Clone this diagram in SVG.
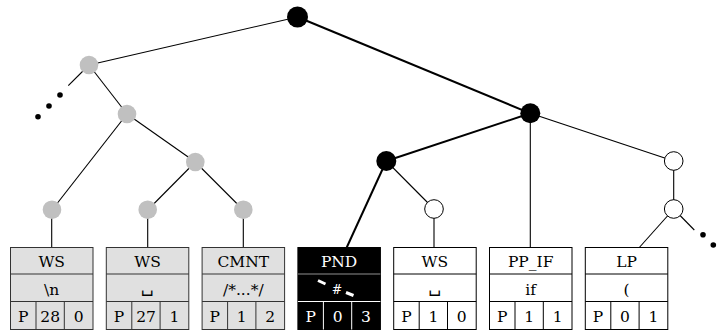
<svg xmlns="http://www.w3.org/2000/svg" width="719" height="331" viewBox="0 0 719 331">
<style>
.thin{stroke:#000;stroke-width:1.1;fill:none}
.thick{stroke:#000;stroke-width:2;fill:none}
.gn{fill:#c0c0c0}
.bn{fill:#000}
.wn{fill:#fff;stroke:#000;stroke-width:1}
.dot{fill:#000}
.gbox{fill:#e0e0e0;stroke:#333;stroke-width:1}
.gline{stroke:#333;stroke-width:1}
.wbox{fill:#fff;stroke:#000;stroke-width:1}
.wline{stroke:#000;stroke-width:1}
.bbox{fill:#000;stroke:#000;stroke-width:1}
.bline{stroke:#fff;stroke-width:1}
text{font-family:"DejaVu Serif","Liberation Serif",serif;font-size:15.5px;text-anchor:middle;fill:#000}
.wt{fill:#fff}
.sp{font-size:17px}
</style>
<g id="connectors">
<line class="thin" x1="297.5" y1="17" x2="89" y2="65"/>
<line class="thin" x1="89" y1="65" x2="68.3" y2="85.7"/>
<line class="thin" x1="89" y1="65" x2="127" y2="114"/>
<line class="thin" x1="127" y1="114" x2="52" y2="210"/>
<line class="thin" x1="127" y1="114" x2="195.3" y2="162"/>
<line class="thin" x1="195.3" y1="162" x2="147.7" y2="210"/>
<line class="thin" x1="195.3" y1="162" x2="243.3" y2="210"/>
<line class="thin" x1="51.7" y1="210" x2="51.7" y2="247.5"/>
<line class="thin" x1="147.7" y1="210" x2="147.7" y2="247.5"/>
<line class="thin" x1="243.3" y1="210" x2="243.3" y2="247.5"/>
<line class="thick" x1="297.5" y1="17" x2="530.3" y2="113.3"/>
<line class="thick" x1="530.3" y1="113.3" x2="386.3" y2="161"/>
<line class="thick" x1="386.3" y1="161" x2="346.7" y2="247.5"/>
<line class="thin" x1="386.3" y1="161" x2="434" y2="209"/>
<line class="thin" x1="434" y1="209" x2="434" y2="247.5"/>
<line class="thin" x1="530.3" y1="113.3" x2="530.3" y2="247.5"/>
<line class="thin" x1="530.3" y1="113.3" x2="673.7" y2="161"/>
<line class="thin" x1="673.7" y1="161" x2="673.7" y2="209"/>
<line class="thin" x1="673.7" y1="209" x2="639.3" y2="247.5"/>
<line class="thin" x1="673.7" y1="209" x2="694.3" y2="230"/>
<circle class="dot" cx="60" cy="95" r="2.8"/>
<circle class="dot" cx="49" cy="106" r="2.8"/>
<circle class="dot" cx="38" cy="116.7" r="2.8"/>
<circle class="dot" cx="703" cy="234.7" r="2.8"/>
<circle class="dot" cx="713.3" cy="245" r="2.8"/>
</g>
<g id="n-root"><circle class="bn" cx="297.5" cy="17" r="10.5"/></g>
<g id="n-a"><circle class="gn" cx="89" cy="65" r="9.3"/></g>
<g id="n-b"><circle class="gn" cx="127" cy="114" r="9.3"/></g>
<g id="n-c"><circle class="gn" cx="195.3" cy="162" r="9.3"/></g>
<g id="n-l1"><circle class="gn" cx="52" cy="209.7" r="9.3"/></g>
<g id="n-l2"><circle class="gn" cx="147.7" cy="209.7" r="9.3"/></g>
<g id="n-l3"><circle class="gn" cx="243.3" cy="209.7" r="9.3"/></g>
<g id="n-d"><circle class="bn" cx="530.3" cy="113.3" r="10"/></g>
<g id="n-e"><circle class="bn" cx="386.3" cy="161" r="10"/></g>
<g id="n-f"><circle class="wn" cx="434" cy="209" r="9.3"/></g>
<g id="n-g"><circle class="wn" cx="673.7" cy="161" r="9.3"/></g>
<g id="n-h"><circle class="wn" cx="673.7" cy="209" r="9.3"/></g>

<g id="box-ws1">
<rect class="gbox" x="10.5" y="247.5" width="82.5" height="82"/>
<line class="gline" x1="10.5" y1="274" x2="93" y2="274"/>
<line class="gline" x1="10.5" y1="301.5" x2="93" y2="301.5"/>
<line class="gline" x1="36" y1="301.5" x2="36" y2="329.5"/>
<line class="gline" x1="64.3" y1="301.5" x2="64.3" y2="329.5"/>
<text x="51.7" y="267">WS</text>
<text x="51.7" y="294.5">\n</text>
<text x="23.2" y="322">P</text>
<text x="50.2" y="322">28</text>
<text x="78.6" y="322">0</text>
</g>
<g id="box-ws2">
<rect class="gbox" x="106.3" y="247.5" width="82.5" height="82"/>
<line class="gline" x1="106.3" y1="274" x2="188.8" y2="274"/>
<line class="gline" x1="106.3" y1="301.5" x2="188.8" y2="301.5"/>
<line class="gline" x1="131.8" y1="301.5" x2="131.8" y2="329.5"/>
<line class="gline" x1="160.1" y1="301.5" x2="160.1" y2="329.5"/>
<text x="147.5" y="267">WS</text>
<text class="sp" x="147.5" y="292">␣</text>
<text x="119" y="322">P</text>
<text x="146" y="322">27</text>
<text x="174.4" y="322">1</text>
</g>
<g id="box-cmnt">
<rect class="gbox" x="202.1" y="247.5" width="82.5" height="82"/>
<line class="gline" x1="202.1" y1="274" x2="284.6" y2="274"/>
<line class="gline" x1="202.1" y1="301.5" x2="284.6" y2="301.5"/>
<line class="gline" x1="227.6" y1="301.5" x2="227.6" y2="329.5"/>
<line class="gline" x1="255.9" y1="301.5" x2="255.9" y2="329.5"/>
<text x="243.3" y="267">CMNT</text>
<text x="243.3" y="294.5">/*...*/</text>
<text x="214.8" y="322">P</text>
<text x="241.8" y="322">1</text>
<text x="270.2" y="322">2</text>
</g>
<g id="box-pnd">
<rect class="bbox" x="297.9" y="247.5" width="82.5" height="82"/>
<line stroke="#909090" stroke-width="1" x1="297.9" y1="274" x2="380.4" y2="274"/>
<line class="bline" x1="297.9" y1="301.5" x2="380.4" y2="301.5"/>
<line class="bline" x1="323.4" y1="301.5" x2="323.4" y2="329.5"/>
<line class="bline" x1="351.7" y1="301.5" x2="351.7" y2="329.5"/>
<text class="wt" x="339.1" y="267">PND</text>
<text class="wt" x="337" y="294" style="font-size:12.5px">#</text>
<line stroke="#fff" stroke-width="3" x1="318" y1="280.5" x2="325.5" y2="284"/>
<line stroke="#fff" stroke-width="3" x1="346" y1="292.5" x2="353.5" y2="295.5"/>
<text class="wt" x="310.6" y="322">P</text>
<text class="wt" x="337.6" y="322">0</text>
<text class="wt" x="366" y="322">3</text>
</g>
<g id="box-ws3">
<rect class="wbox" x="393.7" y="247.5" width="82.5" height="82"/>
<line class="wline" x1="393.7" y1="274" x2="476.2" y2="274"/>
<line class="wline" x1="393.7" y1="301.5" x2="476.2" y2="301.5"/>
<line class="wline" x1="419.2" y1="301.5" x2="419.2" y2="329.5"/>
<line class="wline" x1="447.5" y1="301.5" x2="447.5" y2="329.5"/>
<text x="434.9" y="267">WS</text>
<text class="sp" x="434.9" y="292">␣</text>
<text x="406.4" y="322">P</text>
<text x="433.4" y="322">1</text>
<text x="461.8" y="322">0</text>
</g>
<g id="box-ppif">
<rect class="wbox" x="489.5" y="247.5" width="82.5" height="82"/>
<line class="wline" x1="489.5" y1="274" x2="572" y2="274"/>
<line class="wline" x1="489.5" y1="301.5" x2="572" y2="301.5"/>
<line class="wline" x1="515" y1="301.5" x2="515" y2="329.5"/>
<line class="wline" x1="543.3" y1="301.5" x2="543.3" y2="329.5"/>
<text x="530.7" y="267">PP_IF</text>
<text x="530.7" y="294.5">if</text>
<text x="502.2" y="322">P</text>
<text x="529.2" y="322">1</text>
<text x="557.6" y="322">1</text>
</g>
<g id="box-lp">
<rect class="wbox" x="585.3" y="247.5" width="82.5" height="82"/>
<line class="wline" x1="585.3" y1="274" x2="667.8" y2="274"/>
<line class="wline" x1="585.3" y1="301.5" x2="667.8" y2="301.5"/>
<line class="wline" x1="610.8" y1="301.5" x2="610.8" y2="329.5"/>
<line class="wline" x1="639.1" y1="301.5" x2="639.1" y2="329.5"/>
<text x="626.5" y="267">LP</text>
<text x="626.5" y="294.5">(</text>
<text x="598" y="322">P</text>
<text x="625" y="322">0</text>
<text x="653.4" y="322">1</text>
</g>
</svg>
